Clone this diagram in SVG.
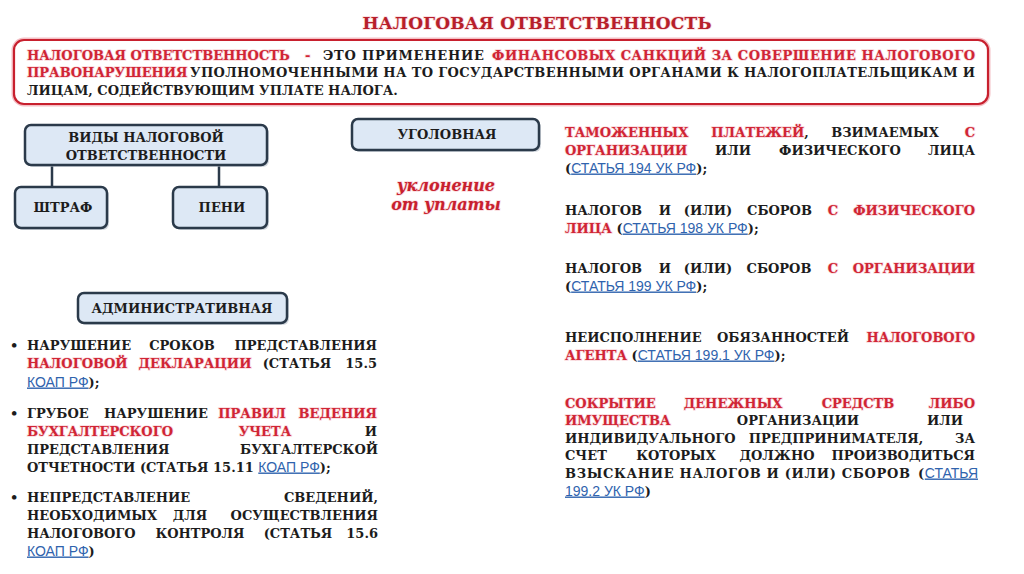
<svg xmlns="http://www.w3.org/2000/svg" width="1024" height="574" viewBox="0 0 1024 574">
<style>
.t{font-family:"DejaVu Serif","Liberation Serif",serif;font-weight:bold;font-size:13px;fill:#1c1c1c}
.r{fill:#d02535;stroke:#f3b5bc;stroke-width:1.6;stroke-opacity:0.5;paint-order:stroke}
.m{text-anchor:middle}
.e{text-anchor:end}
.ttl{font-size:17px;fill:#b71f2b}
.lk{font-family:"Liberation Sans","Open Sans",sans-serif;font-weight:normal;font-size:14px;fill:#2f63ad;text-decoration:underline;stroke:none}
.box{fill:#dde8f5;stroke:#2b3a4a;stroke-width:2.5}
.sh{fill:#b9c2cc;opacity:0.6}
.bt{font-family:"DejaVu Serif","Liberation Serif",serif;font-weight:bold;font-size:13px;fill:#1c1c1c;text-anchor:middle}
.con{stroke:#2b3a4a;stroke-width:2.5;fill:none}
.it{font-family:"DejaVu Serif","Liberation Serif",serif;font-weight:bold;font-style:italic;font-size:16px;fill:#c8202e;text-anchor:middle;stroke:#f3b5bc;stroke-width:1.6;stroke-opacity:0.5;paint-order:stroke}
</style>
<rect width="1024" height="574" fill="#ffffff"/>

<g id="title">
<text class="t r m ttl" x="537" y="29" textLength="349" lengthAdjust="spacing">НАЛОГОВАЯ ОТВЕТСТВЕННОСТЬ</text>
</g>

<g id="definition">
<rect x="14" y="40" width="974" height="64" rx="10" fill="none" stroke="#f4c0c6" stroke-width="5"/>
<rect x="14" y="40" width="974" height="64" rx="10" fill="#ffffff" stroke="#c8202e" stroke-width="2.2"/>
<text class="t r" x="27" y="59.5">НАЛОГОВАЯ ОТВЕТСТВЕННОСТЬ</text>
<text class="t r" x="305" y="59.5">-</text>
<text class="t" x="323" y="59.5" textLength="161" lengthAdjust="spacing">ЭТО ПРИМЕНЕНИЕ</text>
<text class="t r" x="492" y="59.5" textLength="483" lengthAdjust="spacing">ФИНАНСОВЫХ САНКЦИЙ ЗА СОВЕРШЕНИЕ НАЛОГОВОГО</text>
<text class="t r" x="27" y="77">ПРАВОНАРУШЕНИЯ</text>
<text class="t" x="190" y="77" textLength="785" lengthAdjust="spacing">УПОЛНОМОЧЕННЫМИ НА ТО ГОСУДАРСТВЕННЫМИ ОРГАНАМИ К НАЛОГОПЛАТЕЛЬЩИКАМ И</text>
<text class="t" x="27" y="95">ЛИЦАМ, СОДЕЙСТВУЮЩИМ УПЛАТЕ НАЛОГА.</text>
</g>

<g id="connectors">
<line class="con" x1="52" y1="165" x2="52" y2="187"/>
<line class="con" x1="219" y1="165" x2="219" y2="187"/>
</g>

<g id="vidy">
<rect class="sh" x="27" y="127" width="242" height="40" rx="6"/>
<rect class="box" x="25" y="125" width="242" height="40" rx="6"/>
<text class="bt" x="146" y="141.5">ВИДЫ НАЛОГОВОЙ</text>
<text class="bt" x="146" y="159.5">ОТВЕТСТВЕННОСТИ</text>
</g>
<g id="shtraf">
<rect class="sh" x="17" y="189" width="92" height="41" rx="6"/>
<rect class="box" x="15" y="187" width="92" height="41" rx="6"/>
<text class="bt" x="63" y="212">ШТРАФ</text>
</g>
<g id="peni">
<rect class="sh" x="175" y="189" width="94" height="41" rx="6"/>
<rect class="box" x="173" y="187" width="94" height="41" rx="6"/>
<text class="bt" x="222" y="212">ПЕНИ</text>
</g>
<g id="ugolovnaya">
<rect class="sh" x="354" y="121" width="187" height="31" rx="6"/>
<rect class="box" x="352" y="119" width="187" height="31" rx="6"/>
<text class="bt" x="447" y="139">УГОЛОВНАЯ</text>
<text class="it" x="446" y="191">уклонение</text>
<text class="it" x="446" y="210">от уплаты</text>
</g>
<g id="administrativnaya">
<rect class="sh" x="80" y="295" width="209" height="30" rx="6"/>
<rect class="box" x="78" y="293" width="209" height="30" rx="6"/>
<text class="bt" x="182" y="312.5">АДМИНИСТРАТИВНАЯ</text>
</g>

<g id="ugolovnaya-list">
<text class="t r" x="565" y="136.5">ТАМОЖЕННЫХ</text>
<text class="t m" x="760" y="136.5"><tspan class="r">ПЛАТЕЖЕЙ</tspan>,</text>
<text class="t m" x="885" y="136.5">ВЗИМАЕМЫХ</text>
<text class="t r e" x="975" y="136.5">С</text>
<text class="t r" x="565" y="154.5">ОРГАНИЗАЦИИ</text>
<text class="t m" x="733" y="154.5">ИЛИ</text>
<text class="t m" x="840" y="154.5">ФИЗИЧЕСКОГО</text>
<text class="t e" x="975" y="154.5">ЛИЦА</text>
<text class="t" x="565" y="172.5">(<tspan class="lk">СТАТЬЯ 194 УК РФ</tspan>);</text>

<text class="t" x="565" y="214.5">НАЛОГОВ</text>
<text class="t m" x="665" y="214.5">И</text>
<text class="t m" x="708" y="214.5">(ИЛИ)</text>
<text class="t m" x="779.5" y="214.5">СБОРОВ</text>
<text class="t r m" x="833" y="214.5">С</text>
<text class="t r e" x="975" y="214.5">ФИЗИЧЕСКОГО</text>
<text class="t" x="565" y="232.5"><tspan class="r">ЛИЦА</tspan> (<tspan class="lk">СТАТЬЯ 198 УК РФ</tspan>);</text>

<text class="t" x="565" y="272.5">НАЛОГОВ</text>
<text class="t m" x="665" y="272.5">И</text>
<text class="t m" x="708" y="272.5">(ИЛИ)</text>
<text class="t m" x="779" y="272.5">СБОРОВ</text>
<text class="t r m" x="833" y="272.5">С</text>
<text class="t r e" x="975" y="272.5">ОРГАНИЗАЦИИ</text>
<text class="t" x="565" y="290.5">(<tspan class="lk">СТАТЬЯ 199 УК РФ</tspan>);</text>

<text class="t" x="565" y="341.5">НЕИСПОЛНЕНИЕ</text>
<text class="t m" x="783" y="341.5">ОБЯЗАННОСТЕЙ</text>
<text class="t r e" x="975" y="341.5">НАЛОГОВОГО</text>
<text class="t" x="565" y="359.5"><tspan class="r">АГЕНТА</tspan> (<tspan class="lk">СТАТЬЯ 199.1 УК РФ</tspan>);</text>

<text class="t r" x="565" y="407.5">СОКРЫТИЕ</text>
<text class="t r m" x="733" y="407.5">ДЕНЕЖНЫХ</text>
<text class="t r m" x="858" y="407.5">СРЕДСТВ</text>
<text class="t r e" x="975" y="407.5">ЛИБО</text>
<text class="t r" x="565" y="424.5">ИМУЩЕСТВА</text>
<text class="t m" x="798" y="424.5">ОРГАНИЗАЦИИ</text>
<text class="t e" x="963" y="424.5">ИЛИ</text>
<text class="t" x="565" y="442.5">ИНДИВИДУАЛЬНОГО</text>
<text class="t m" x="836" y="442.5">ПРЕДПРИНИМАТЕЛЯ,</text>
<text class="t e" x="975" y="442.5">ЗА</text>
<text class="t" x="565" y="459.5">СЧЕТ</text>
<text class="t m" x="676" y="459.5">КОТОРЫХ</text>
<text class="t m" x="777" y="459.5">ДОЛЖНО</text>
<text class="t e" x="975" y="459.5">ПРОИЗВОДИТЬСЯ</text>
<text class="t" x="565" y="477.5" textLength="345" lengthAdjust="spacing">ВЗЫСКАНИЕ НАЛОГОВ И (ИЛИ) СБОРОВ</text>
<text class="t" x="918" y="477.5">(</text>
<text class="t e" x="978" y="477.5"><tspan class="lk">СТАТЬЯ</tspan></text>
<text class="t" x="565" y="495.5"><tspan class="lk">199.2 УК РФ</tspan>)</text>
</g>

<g id="admin-list">
<text class="t" x="10" y="349.5">•</text>
<text class="t" x="27" y="349.5">НАРУШЕНИЕ</text>
<text class="t m" x="182" y="349.5">СРОКОВ</text>
<text class="t e" x="377" y="349.5">ПРЕДСТАВЛЕНИЯ</text>
<text class="t r" x="27" y="368">НАЛОГОВОЙ</text>
<text class="t r m" x="195" y="368">ДЕКЛАРАЦИИ</text>
<text class="t m" x="297" y="368">(СТАТЬЯ</text>
<text class="t e" x="377" y="368">15.5</text>
<text class="t" x="27" y="386.5"><tspan class="lk">КОАП РФ</tspan>);</text>

<text class="t" x="10" y="417.5">•</text>
<text class="t" x="27" y="417.5">ГРУБОЕ</text>
<text class="t m" x="156" y="417.5">НАРУШЕНИЕ</text>
<text class="t r m" x="252" y="417.5">ПРАВИЛ</text>
<text class="t r e" x="377" y="417.5">ВЕДЕНИЯ</text>
<text class="t r" x="27" y="435.5">БУХГАЛТЕРСКОГО</text>
<text class="t r m" x="265" y="435.5">УЧЕТА</text>
<text class="t e" x="377" y="435.5">И</text>
<text class="t" x="27" y="453.5">ПРЕДСТАВЛЕНИЯ</text>
<text class="t e" x="378" y="453.5">БУХГАЛТЕРСКОЙ</text>
<text class="t" x="27" y="471.5">ОТЧЕТНОСТИ (СТАТЬЯ 15.11 <tspan class="lk">КОАП РФ</tspan>);</text>

<text class="t" x="10" y="501.5">•</text>
<text class="t" x="27" y="501.5">НЕПРЕДСТАВЛЕНИЕ</text>
<text class="t e" x="378" y="501.5">СВЕДЕНИЙ,</text>
<text class="t" x="27" y="519.5">НЕОБХОДИМЫХ</text>
<text class="t m" x="190" y="519.5">ДЛЯ</text>
<text class="t e" x="378" y="519.5">ОСУЩЕСТВЛЕНИЯ</text>
<text class="t" x="27" y="537.5">НАЛОГОВОГО</text>
<text class="t m" x="200" y="537.5">КОНТРОЛЯ</text>
<text class="t m" x="298" y="537.5">(СТАТЬЯ</text>
<text class="t e" x="378" y="537.5">15.6</text>
<text class="t" x="27" y="555.5"><tspan class="lk">КОАП РФ</tspan>)</text>
</g>
</svg>
